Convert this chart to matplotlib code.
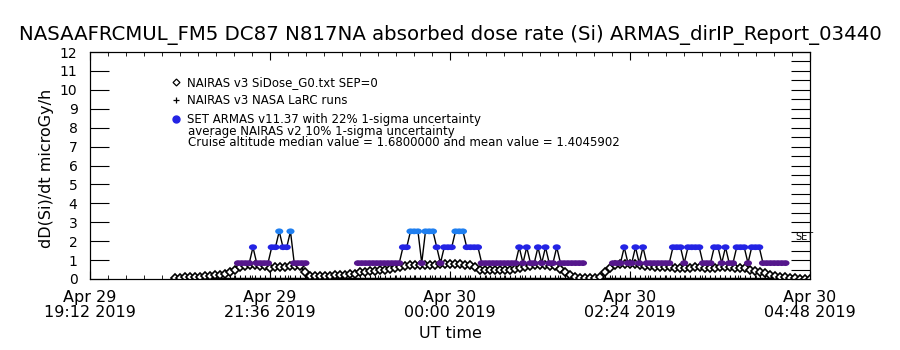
#Absorbed dose rate (Si) for an ARMAS flight report, NAIRAS model vs measurement
import numpy as np
import matplotlib.pyplot as plt
from matplotlib.lines import Line2D
from matplotlib.path import Path
from matplotlib.colors import ListedColormap, BoundaryNorm

title = "NASAAFRCMUL_FM5 DC87 N817NA absorbed dose rate (Si) ARMAS_dirIP_Report_03440"

#time axis in hours after Apr 29 00:00 UT
tick_hours = [19.2, 21.6, 24.0, 26.4, 28.8]
tick_labels = ["Apr 29\n19:12 2019", "Apr 29\n21:36 2019", "Apr 30\n00:00 2019",
               "Apr 30\n02:24 2019", "Apr 30\n04:48 2019"]

#NAIRAS v3 SiDose, one value every 4 minutes starting 20:20 UT
nairas_start = 20.333
nairas_step = 4 / 60
nairas = [0.05, 0.05, 0.08, 0.10, 0.10, 0.12, 0.15, 0.18, 0.20, 0.22,
          0.25, 0.35, 0.50, 0.62, 0.70, 0.72, 0.72, 0.70, 0.68, 0.60,
          0.62, 0.65, 0.65, 0.68, 0.70, 0.70, 0.35, 0.15, 0.15, 0.15,
          0.18, 0.18, 0.20, 0.20, 0.22, 0.25, 0.28, 0.35, 0.38, 0.40,
          0.42, 0.45, 0.50, 0.55, 0.60, 0.65, 0.70, 0.72, 0.72, 0.75,
          0.75, 0.75, 0.75, 0.78, 0.78, 0.78, 0.78, 0.78, 0.75, 0.75,
          0.65, 0.50, 0.45, 0.45, 0.45, 0.45, 0.48, 0.50, 0.52, 0.60,
          0.65, 0.70, 0.72, 0.72, 0.72, 0.70, 0.70, 0.55, 0.35, 0.20,
          0.10, 0.05, 0.05, 0.05, 0.05, 0.10, 0.35, 0.60, 0.72, 0.78,
          0.78, 0.78, 0.78, 0.75, 0.70, 0.68, 0.65, 0.65, 0.62, 0.62,
          0.60, 0.60, 0.60, 0.60, 0.62, 0.62, 0.60, 0.60, 0.60, 0.62,
          0.62, 0.62, 0.60, 0.60, 0.58, 0.50, 0.42, 0.35, 0.30, 0.20,
          0.15, 0.12, 0.08, 0.05, 0.03, 0.02, 0.01, 0.00]

#NAIRAS v3 NASA LaRC runs (flat near zero)
larc = [0.06] * len(nairas)

#SET ARMAS dose rate, one value every 3 minutes, three cruise legs
armas_step = 3 / 60
armas_starts = [21.173, 22.773, 26.173]
armas_leg1 = [0.84, 0.84, 0.84, 0.84, 1.68, 0.84, 0.84, 0.84, 0.84, 1.68,
              1.68, 2.52, 1.68, 1.68, 2.52, 0.84, 0.84, 0.84, 0.84]
armas_leg2 = [0.84, 0.84, 0.84, 0.84, 0.84, 0.84, 0.84, 0.84, 0.84, 0.84,
              0.84, 0.84, 1.68, 1.68, 2.52, 2.52, 2.52, 0.84, 2.52, 2.52,
              2.52, 1.68, 0.84, 1.68, 1.68, 1.68, 2.52, 2.52, 2.52, 1.68,
              1.68, 1.68, 1.68, 0.84, 0.84, 0.84, 0.84, 0.84, 0.84, 0.84,
              0.84, 0.84, 0.84, 1.68, 0.84, 1.68, 0.84, 0.84, 1.68, 0.84,
              1.68, 0.84, 0.84, 1.68, 0.84, 0.84, 0.84, 0.84, 0.84, 0.84,
              0.84]
armas_leg3 = [0.84, 0.84, 0.84, 1.68, 0.84, 0.84, 1.68, 0.84, 1.68, 0.84,
              0.84, 0.84, 0.84, 0.84, 0.84, 0.84, 1.68, 1.68, 1.68, 0.84,
              1.68, 1.68, 1.68, 1.68, 0.84, 0.84, 0.84, 1.68, 1.68, 0.84,
              1.68, 0.84, 0.84, 1.68, 1.68, 1.68, 0.84, 1.68, 1.68, 1.68,
              0.84, 0.84, 0.84, 0.84, 0.84, 0.84, 0.84]

legend_labels = ["NAIRAS v3 SiDose_G0.txt SEP=0",
                 "NAIRAS v3 NASA LaRC runs",
                 "SET ARMAS v11.37 with 22% 1-sigma uncertainty"]
note1 = "average NAIRAS v2 10% 1-sigma uncertainty"
note2 = "Cruise altitude median value = 1.6800000 and mean value = 1.4045902"

#build the time arrays
nairas_t = nairas_start + nairas_step * np.arange(len(nairas))
armas_t = []
armas_v = []
for start, leg in zip(armas_starts, [armas_leg1, armas_leg2, armas_leg3]):
    armas_t += list(start + armas_step * np.arange(len(leg))) + [np.nan]
    armas_v += leg + [np.nan]
armas_t = np.array(armas_t)
armas_v = np.array(armas_v)

#colour scale for the ARMAS dots
cmap = ListedColormap(["black", "#55178c", "#2323e4", "#1f7ff0"])
norm = BoundaryNorm([0, 0.5, 1.2, 2.1, 3.0], cmap.N)

#slightly flat dot like the original plot symbol
circ = Path.unit_circle()
flat_dot = Path(circ.vertices * [1, 0.72], circ.codes)

plt.rcParams["font.family"] = "DejaVu Sans"
fig = plt.figure(figsize=(9, 3.5), dpi=100)
ax = fig.add_axes([0.1, 1 - 279 / 350, 0.8, 227 / 350])

ax.plot(nairas_t, larc, c="black", lw=1, marker="+", ms=5, mew=0.8)
ax.plot(nairas_t, nairas, c="black", lw=1.4, marker="D", ms=4,
        mfc="white", mec="black", mew=1.2)
ax.plot(armas_t, armas_v, c="black", lw=1)
ax.scatter(armas_t, armas_v, c=armas_v, cmap=cmap, norm=norm, s=34,
           marker=flat_dot, edgecolors="none", zorder=3)

ax.set_xlim(19.2, 28.8)
ax.set_ylim(0, 12)
ax.set_xticks(tick_hours)
ax.set_xticklabels(tick_labels, fontsize=11.5, linespacing=0.95)
ax.set_xticks(np.arange(19.2, 28.81, 0.24), minor=True)
ax.set_yticks(range(13))
ax.tick_params(axis="x", which="major", direction="in", length=6, top=True, pad=8)
ax.tick_params(axis="x", which="minor", direction="in", length=3, top=True)
ax.tick_params(axis="y", direction="in", length=14, right=False, labelsize=10, pad=9)

ax2 = ax.twinx()
ax2.set_ylim(0, 12)
ax2.set_yticks(np.arange(0, 12.01, 0.5))
ax2.tick_params(axis="y", direction="in", length=14, labelright=False)

ax.text(28.73, 2.2, "SET", fontsize=7, ha="center", va="center")

fig.text(0.5, 1 - 35 / 350, title, ha="center", va="center", fontsize=14.2)
fig.text(47 / 900, 1 - 168 / 350, "dD(Si)/dt microGy/h", rotation=90,
         ha="center", va="center", fontsize=11.5)
fig.text(0.5, 1 - 333 / 350, "UT time", ha="center", va="center", fontsize=11.5)

handles = [Line2D([], [], ls="none", marker="D", ms=3.5, mfc="white", mec="black", mew=0.9),
           Line2D([], [], ls="none", marker="+", ms=5, c="black", mew=0.9),
           Line2D([], [], ls="none", marker="o", ms=5, c="#2323e4")]
fig.legend(handles, legend_labels, loc="upper left", bbox_to_anchor=(172 / 900, 1 - 76 / 350),
           frameon=False, fontsize=8.5, handlelength=0.7, handletextpad=0.6,
           labelspacing=0.46, borderpad=0, borderaxespad=0)
fig.text(188 / 900, 1 - 131 / 350, note1, fontsize=8.5, va="center")
fig.text(188 / 900, 1 - 142 / 350, note2, fontsize=8.5, va="center")

plt.savefig("out.png")
